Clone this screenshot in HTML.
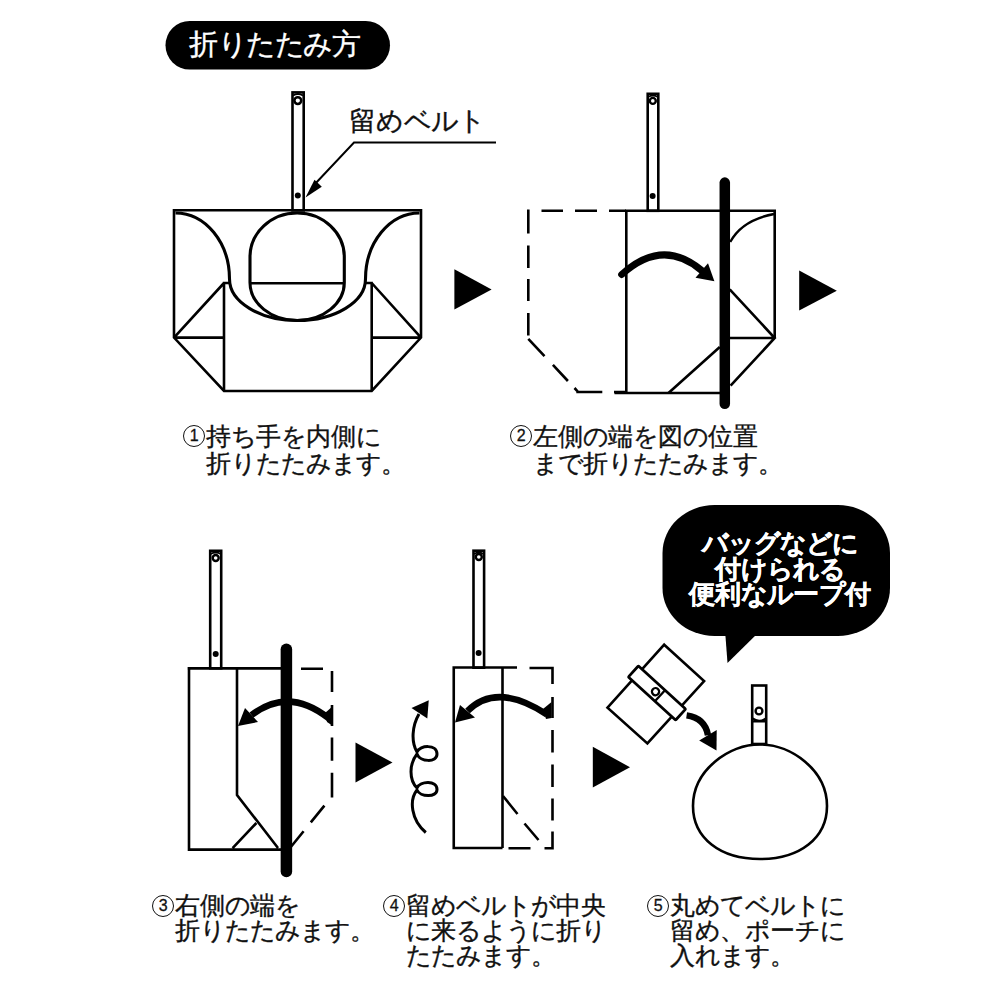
<!DOCTYPE html>
<html><head><meta charset="utf-8"><title>折りたたみ方</title>
<style>
html,body{margin:0;padding:0;background:#fff;}
body{width:1000px;height:1000px;position:relative;overflow:hidden;font-family:"Liberation Sans",sans-serif;}
svg{position:absolute;left:0;top:0;}
.t{position:absolute;white-space:nowrap;color:#111;}
.t span{display:inline-block;width:1em;text-align:center;}
.b{color:#fff;font-weight:bold;text-align:center;}
.t{-webkit-text-stroke:0.35px currentColor;}
.t span.n{position:relative;height:1em;vertical-align:top;}
.t span.n b{position:absolute;left:2px;top:2px;width:20.2px;height:20.2px;border:1.8px solid #111;border-radius:50%;font-weight:normal;font-size:16px;line-height:20.5px;text-align:center;-webkit-text-stroke:0.3px currentColor;box-sizing:content-box;}
</style></head><body>
<svg width="1000" height="1000" viewBox="0 0 1000 1000">
<g fill="none" stroke="#000" stroke-width="2.6" stroke-linecap="butt" stroke-linejoin="miter">
<!-- title pill -->
<rect x="165.5" y="21" width="224.5" height="48.5" rx="24.25" fill="#000" stroke="none"/>

<!-- ===== STEP 1 ===== -->
<rect x="292.5" y="92.4" width="11.2" height="118" />
<path d="M293,95.5 Q298,92.5 303,95.5" stroke-width="2"/>
<circle cx="297.8" cy="100.6" r="3.4" stroke-width="2.5"/>
<circle cx="297.8" cy="195.5" r="3" fill="#000" stroke="none"/>
<path d="M174,210.2 H421 M174,208.9 V337.6 L224,391 H371.7 L421,337.6 V208.9" />
<path d="M224,283 V391 M371.7,283 V391 M174,337.6 H224 M371.7,337.6 H421 M224,283 L174,337.6 M371.7,283 L421,337.6 M222.8,283 H229.5 M365.5,283 H372.9"/>
<path d="M175.5,213 A54,66 0 0 1 229.5,279 A68,41.5 0 0 0 297.5,320.5 A68,41.5 0 0 0 365.5,279 A54,66 0 0 1 419.5,213" stroke-width="3.1"/>
<path d="M250,257 A47.15,44 0 0 1 344.3,257 L344.3,282.5 A47.15,38 0 0 1 297.15,320.5 A47.15,38 0 0 1 250,282.5 Z" stroke-width="3.1"/>
<path d="M250,283.3 H344.3"/>
<path d="M496,142.5 H354 L314,185" stroke-width="2"/>
<polygon points="305.5,197.5 314.5,179.8 321.8,186.8" fill="#000" stroke="none"/>
<polygon points="454.4,269.2 491.6,289.6 454.4,309.6" fill="#000" stroke="none"/>

<!-- ===== STEP 2 ===== -->
<rect x="647.7" y="93.8" width="10.6" height="117" />
<path d="M648,97 Q653,94 658,97" stroke-width="2"/>
<circle cx="652.8" cy="100.9" r="3" stroke-width="2.4"/>
<circle cx="652.6" cy="196" r="3" fill="#000" stroke="none"/>
<path d="M626.3,210.7 H774.7 V338 M626.3,209.5 V393 M614.5,393 H720"/>
<path d="M729,338 H774.7 M729.7,289.4 L774.7,338 L730.6,385.7 M668.5,393 L719.8,347"/>
<path d="M774,214 Q742,220 730.2,242" stroke-width="2.4"/>
<path d="M541.5,210.7 H563 M575,210.7 H597 M609,210.7 H626 M528.3,209.5 V233.5 M528.3,245.5 V268 M528.3,279 V301 M528.3,313 V335.5 M528.3,338.8 L544.5,356.2 M552.9,364.8 L567.9,381 M574.5,388 L577.6,391.4 V392 H602.3 M614,392 H626"/>
<path d="M724.8,182.6 V403.8" stroke-width="10.5" stroke-linecap="round"/>
<path d="M621.7,274.5 Q662.6,237.4 701.7,270.5" stroke-width="7" stroke-linecap="round"/>
<polygon points="714.4,281.3 695.5,277.7 708,263.3" fill="#000" stroke="none"/>
<polygon points="799.2,270.4 836.8,290.8 799.2,310.4" fill="#000" stroke="none"/>

<!-- ===== STEP 3 ===== -->
<rect x="210.2" y="550.8" width="11" height="117.5" />
<path d="M210.5,554 Q215.7,551 221,554" stroke-width="2"/>
<circle cx="215.7" cy="558" r="3" stroke-width="2.4"/>
<circle cx="215.7" cy="654" r="3" fill="#000" stroke="none"/>
<path d="M187.6,668.4 H281 M189,667.2 V849.6 H281 M237,668.4 V795 L278,848 M232.6,848.2 L256.4,823"/>
<path d="M301,668.7 H323 M332,671 V692 M332,705 V726 M332,737.6 V760.8 M332,772.8 V797.6 M324.4,805.6 L310.8,822.4 M303.6,831.2 L290,848"/>
<path d="M286.4,649.3 V871.5" stroke-width="11.5" stroke-linecap="round"/>
<path d="M329,718.5 Q288.8,686.5 251.5,715" stroke-width="6.5" stroke-linecap="butt"/>
<polygon points="325,713 333,706 333,726 327,722" fill="#000" stroke="none"/>
<polygon points="238,726 245,708 258,722" fill="#000" stroke="none"/>
<polygon points="355.5,742.5 392.5,762.5 355.5,782.5" fill="#000" stroke="none"/>

<!-- ===== STEP 4 ===== -->
<rect x="473.5" y="550.7" width="10.6" height="117" />
<path d="M474,554 Q478.8,551 483.5,554" stroke-width="2"/>
<circle cx="478.8" cy="557" r="3" stroke-width="2.4"/>
<circle cx="478.6" cy="653" r="3" fill="#000" stroke="none"/>
<path d="M453.75,666.3 V848 H502.5 M453.75,667.5 H517 M502.5,667.5 V848"/>
<path d="M529.5,668 H552.5 V684 M552.5,697 V718 M552.5,730 V752.5 M552.5,764.5 V787 M552.5,798.5 V820.5 M552.5,831.5 V848.2 H544.5 M530.5,848.2 H508.5 M503,796 L517.5,814 M524.5,823.5 L538.5,840"/>
<path d="M547,714.5 Q496.8,681.5 467.5,711" stroke-width="6.5"/>
<polygon points="543,709 551.5,702 551.5,718 546,719" fill="#000" stroke="none"/>
<polygon points="455,722.5 460,705 475,717.5" fill="#000" stroke="none"/>
<polygon points="428.75,700.2 411.5,708 427.3,718.5" fill="#000" stroke="none"/>
<path d="M419,714 C412,726 411,742 417,752 C420,745 437,744 437,754 C437,763 420,762 417,754 C409,764 409,780 417,788 C420,781 437,780 437,789.5 C437,798 420,797 417,790 C409,800 411,820 425.8,832.5" stroke-width="3"/>
<polygon points="592.8,746.8 630,767.2 592.8,787.6" fill="#000" stroke="none"/>

<!-- ===== STEP 5 ===== -->
<rect x="662.5" y="505" width="227.5" height="131" rx="52" ry="48" fill="#000" stroke="none"/>
<polygon points="725,630 727.5,663 761,630" fill="#000" stroke="none"/>
<polygon points="664.2,644.7 704.1,681.1 647.4,743.4 607.5,707.7"/>
<g transform="translate(657,693) rotate(42.4)">
<rect x="-32" y="-7.5" width="64" height="15" rx="1.2" fill="#fff" stroke-width="2.8"/>
<circle cx="-2" cy="0" r="3.6" stroke-width="2.3"/>
<path d="M4,-7.5 V7.5" stroke-width="2.3"/>
</g>
<path d="M686.6,715.4 Q705,718 708,735.3" stroke-width="6.5"/>
<polygon points="716.5,750.5 699.2,740.6 716.7,730" fill="#000" stroke="none"/>
<path d="M760,744.4 C791,744.4 827,770 827,806 C827,838 800,859 760,859 C720,859 693,838 693,806 C693,770 729,744.4 760,744.4 Z"/>
<rect x="752.2" y="685.5" width="14" height="58.5" fill="#fff"/>
<circle cx="759" cy="711" r="3.4" stroke-width="2.4"/>
<path d="M752.5,718.5 Q759,723 766,718.5 M752.2,721.5 H766.2" stroke-width="2.2"/>
</g>
</svg>

<div class="t" style="left:189px;top:30px;font-size:28.5px;line-height:28.5px;color:#fff;"><span class="c">折</span><span class="c">り</span><span class="c">た</span><span class="c">た</span><span class="c">み</span><span class="c">方</span></div>
<div class="t" style="left:349px;top:107px;font-size:27.3px;line-height:27.3px;"><span class="c">留</span><span class="c">め</span><span class="c">ベ</span><span class="c">ル</span><span class="c">ト</span></div>
<div class="t" style="left:181px;top:423px;font-size:25px;line-height:26.5px;"><span class="c n"><b>1</b></span><span class="c">持</span><span class="c">ち</span><span class="c">手</span><span class="c">を</span><span class="c">内</span><span class="c">側</span><span class="c">に</span><br><span class="c"></span><span class="c">折</span><span class="c">り</span><span class="c">た</span><span class="c">た</span><span class="c">み</span><span class="c">ま</span><span class="c">す</span><span class="c">。</span></div>
<div class="t" style="left:508px;top:423px;font-size:25px;line-height:26.5px;"><span class="c n"><b>2</b></span><span class="c">左</span><span class="c">側</span><span class="c">の</span><span class="c">端</span><span class="c">を</span><span class="c">図</span><span class="c">の</span><span class="c">位</span><span class="c">置</span><br><span class="c"></span><span class="c">ま</span><span class="c">で</span><span class="c">折</span><span class="c">り</span><span class="c">た</span><span class="c">た</span><span class="c">み</span><span class="c">ま</span><span class="c">す</span><span class="c">。</span></div>
<div class="t" style="left:150px;top:893px;font-size:25px;line-height:25px;"><span class="c n"><b>3</b></span><span class="c">右</span><span class="c">側</span><span class="c">の</span><span class="c">端</span><span class="c">を</span><br><span class="c"></span><span class="c">折</span><span class="c">り</span><span class="c">た</span><span class="c">た</span><span class="c">み</span><span class="c">ま</span><span class="c">す</span><span class="c">。</span></div>
<div class="t" style="left:381px;top:893px;font-size:25px;line-height:24.8px;"><span class="c n"><b>4</b></span><span class="c">留</span><span class="c">め</span><span class="c">ベ</span><span class="c">ル</span><span class="c">ト</span><span class="c">が</span><span class="c">中</span><span class="c">央</span><br><span class="c"></span><span class="c">に</span><span class="c">来</span><span class="c">る</span><span class="c">よ</span><span class="c">う</span><span class="c">に</span><span class="c">折</span><span class="c">り</span><br><span class="c"></span><span class="c">た</span><span class="c">た</span><span class="c">み</span><span class="c">ま</span><span class="c">す</span><span class="c">。</span></div>
<div class="t" style="left:645px;top:893px;font-size:25px;line-height:25.2px;"><span class="c n"><b>5</b></span><span class="c">丸</span><span class="c">め</span><span class="c">て</span><span class="c">ベ</span><span class="c">ル</span><span class="c">ト</span><span class="c">に</span><br><span class="c"></span><span class="c">留</span><span class="c">め</span><span class="c">、</span><span class="c">ポ</span><span class="c">ー</span><span class="c">チ</span><span class="c">に</span><br><span class="c"></span><span class="c">入</span><span class="c">れ</span><span class="c">ま</span><span class="c">す</span><span class="c">。</span></div>
<div class="t b" style="left:664px;top:531px;width:232px;font-size:26px;line-height:25.5px;"><span class="c">バ</span><span class="c">ッ</span><span class="c">グ</span><span class="c">な</span><span class="c">ど</span><span class="c">に</span><br><span class="c">付</span><span class="c">け</span><span class="c">ら</span><span class="c">れ</span><span class="c">る</span><br><span class="c">便</span><span class="c">利</span><span class="c">な</span><span class="c">ル</span><span class="c">ー</span><span class="c">プ</span><span class="c">付</span></div>
</body></html>
